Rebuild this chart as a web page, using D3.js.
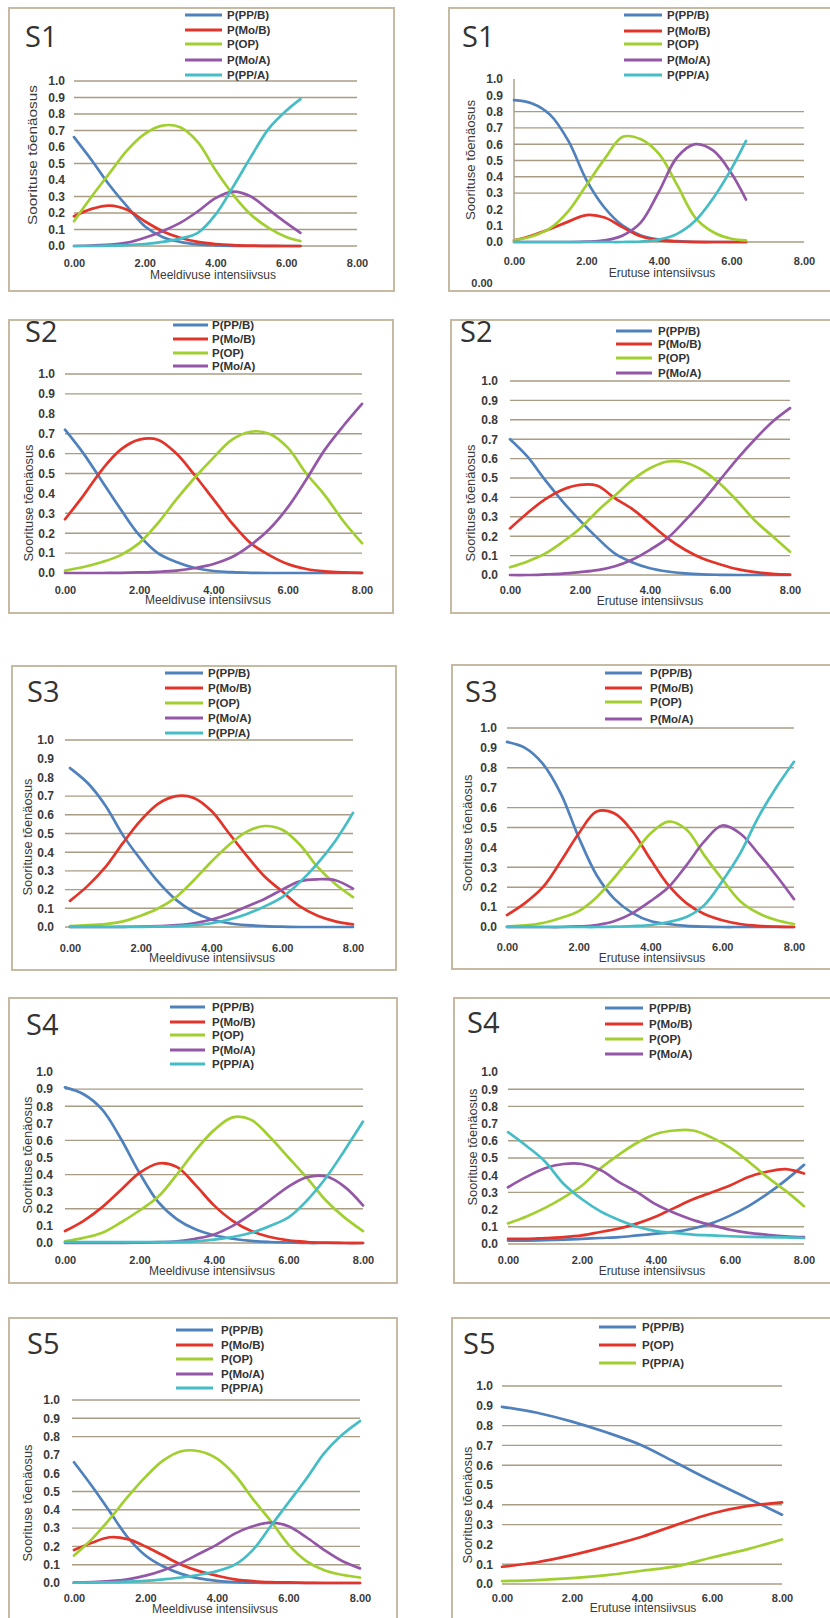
<!DOCTYPE html>
<html><head><meta charset="utf-8">
<script src="https://cdn.jsdelivr.net/npm/d3@7"></script>
<style>body{margin:0;background:#fff}svg{display:block}</style>
</head><body>
<svg id="c" width="830" height="1618"></svg>
<script>
// ---------------- DATA ----------------
const xTicks = [0, 2, 4, 6, 8];
const yTicks = [0, 0.1, 0.2, 0.3, 0.4, 0.5, 0.6, 0.7, 0.8, 0.9, 1.0];
const yTitle = "Soorituse tõenäosus";
const xTitleMeel = "Meeldivuse intensiivsus";
const xTitleErut = "Erutuse intensiivsus";
const panelTitles = ["S1", "S1", "S2", "S2", "S3", "S3", "S4", "S4", "S5", "S5"];

const xS1 = [0, 0.5, 1, 1.5, 2, 2.5, 3, 3.5, 4, 4.5, 5, 5.5, 6, 6.4];
const xFull = [0, 0.5, 1, 1.5, 2, 2.5, 3, 3.5, 4, 4.5, 5, 5.5, 6, 6.5, 7, 7.5, 8];
const xInt = [0, 1, 2, 3, 4, 5, 6, 7, 8];

// S1 – Meeldivus
const s1m_PPB = [0.66,0.52,0.37,0.24,0.12,0.055,0.025,0.01,0.004,0.001,0,0,0,0];
const s1m_MoB = [0.18,0.225,0.245,0.22,0.15,0.09,0.05,0.025,0.012,0.005,0.002,0.001,0,0];
const s1m_OP  = [0.15,0.30,0.44,0.58,0.68,0.73,0.72,0.63,0.46,0.31,0.19,0.11,0.055,0.03];
const s1m_MoA = [0,0.003,0.008,0.02,0.05,0.09,0.14,0.21,0.29,0.33,0.30,0.22,0.14,0.08];
const s1m_PPA = [0,0,0.002,0.005,0.012,0.025,0.045,0.08,0.19,0.36,0.54,0.71,0.82,0.89];
// S1 – Erutus
const s1e_PPB = [0.87,0.85,0.78,0.62,0.38,0.21,0.10,0.04,0.015,0.005,0,0,0,0];
const s1e_MoB = [0.01,0.04,0.08,0.125,0.165,0.15,0.09,0.035,0.01,0.003,0.001,0,0,0];
const s1e_OP  = [0.01,0.035,0.085,0.19,0.35,0.51,0.645,0.63,0.54,0.35,0.15,0.06,0.02,0.01];
const s1e_MoA = [0,0,0,0,0.002,0.01,0.04,0.12,0.31,0.52,0.60,0.56,0.42,0.26];
const s1e_PPA = [0,0,0,0,0,0,0,0.003,0.015,0.05,0.13,0.27,0.45,0.62];
// S2 – Meeldivus
const s2m_PPB = [0.72,0.60,0.46,0.32,0.19,0.10,0.055,0.025,0.01,0.004,0.001,0,0,0,0,0,0];
const s2m_MoB = [0.27,0.39,0.52,0.62,0.67,0.67,0.60,0.49,0.37,0.25,0.15,0.09,0.045,0.02,0.008,0.003,0.001];
const s2m_OP  = [0.012,0.03,0.055,0.09,0.15,0.25,0.37,0.48,0.58,0.67,0.71,0.70,0.63,0.50,0.39,0.26,0.15];
const s2m_MoA = [0,0,0,0.001,0.003,0.006,0.012,0.025,0.045,0.08,0.14,0.22,0.33,0.47,0.62,0.74,0.85];
// S2 – Erutus
const s2e_PPB = [0.70,0.61,0.49,0.38,0.28,0.19,0.11,0.065,0.035,0.018,0.008,0.003,0.001,0,0,0,0];
const s2e_MoB = [0.24,0.32,0.39,0.44,0.465,0.46,0.395,0.34,0.265,0.19,0.13,0.085,0.055,0.03,0.015,0.006,0.002];
const s2e_OP  = [0.04,0.07,0.11,0.17,0.24,0.33,0.41,0.49,0.55,0.585,0.58,0.54,0.47,0.38,0.28,0.20,0.12];
const s2e_MoA = [0,0,0.003,0.007,0.015,0.025,0.045,0.08,0.13,0.19,0.28,0.38,0.49,0.60,0.70,0.79,0.86];
// S3 – Meeldivus
const s3m_PPB = [0.85,0.77,0.65,0.49,0.36,0.24,0.145,0.08,0.04,0.02,0.01,0.005,0.002,0,0,0,0];
const s3m_MoB = [0.14,0.22,0.32,0.45,0.57,0.66,0.70,0.69,0.62,0.50,0.38,0.27,0.19,0.11,0.06,0.03,0.014];
const s3m_OP  = [0.005,0.01,0.015,0.03,0.06,0.10,0.16,0.25,0.35,0.44,0.51,0.54,0.52,0.44,0.32,0.23,0.16];
const s3m_MoA = [0,0,0,0.001,0.002,0.005,0.01,0.02,0.04,0.07,0.11,0.15,0.20,0.245,0.255,0.25,0.205];
const s3m_PPA = [0,0,0,0,0.001,0.003,0.005,0.01,0.02,0.04,0.07,0.11,0.16,0.24,0.34,0.46,0.61];
// S3 – Erutus
const s3e_PPB = [0.93,0.90,0.82,0.67,0.45,0.26,0.14,0.07,0.03,0.015,0.006,0.002,0,0,0,0,0];
const s3e_MoB = [0.06,0.12,0.20,0.33,0.47,0.58,0.57,0.48,0.34,0.21,0.12,0.065,0.034,0.015,0.006,0.002,0];
const s3e_OP  = [0.002,0.008,0.02,0.045,0.08,0.15,0.25,0.36,0.47,0.53,0.49,0.36,0.24,0.13,0.07,0.035,0.015];
const s3e_MoA = [0,0,0,0,0.003,0.01,0.03,0.07,0.13,0.20,0.31,0.43,0.51,0.47,0.37,0.26,0.14];
const s3e_PPA = [0,0,0,0,0,0,0.002,0.005,0.01,0.025,0.05,0.11,0.23,0.37,0.55,0.70,0.83];
// S4 – Meeldivus
const s4m_PPB = [0.91,0.87,0.78,0.61,0.41,0.24,0.14,0.08,0.045,0.025,0.012,0.006,0.003,0,0,0,0];
const s4m_MoB = [0.07,0.13,0.21,0.31,0.41,0.465,0.445,0.34,0.22,0.13,0.07,0.035,0.015,0.006,0.002,0,0];
const s4m_OP  = [0.01,0.03,0.06,0.12,0.19,0.27,0.40,0.54,0.66,0.735,0.72,0.62,0.50,0.38,0.25,0.15,0.07];
const s4m_MoA = [0,0,0,0,0.002,0.005,0.01,0.025,0.05,0.10,0.17,0.25,0.33,0.385,0.39,0.33,0.22];
const s4m_PPA = [0.005,0.005,0.005,0.005,0.005,0.005,0.006,0.01,0.02,0.035,0.06,0.10,0.15,0.25,0.38,0.54,0.71];
// S4 – Erutus
const s4e_PPB = [0.02,0.02,0.022,0.025,0.03,0.035,0.04,0.05,0.06,0.07,0.09,0.12,0.165,0.22,0.29,0.37,0.46];
const s4e_MoB = [0.03,0.03,0.035,0.04,0.05,0.07,0.09,0.12,0.16,0.21,0.26,0.30,0.34,0.39,0.42,0.435,0.41];
const s4e_OP  = [0.12,0.16,0.21,0.27,0.34,0.44,0.52,0.59,0.64,0.66,0.66,0.62,0.56,0.48,0.39,0.31,0.22];
const s4e_MoA = [0.33,0.39,0.44,0.465,0.465,0.43,0.36,0.30,0.23,0.18,0.14,0.11,0.083,0.065,0.054,0.045,0.04];
const s4e_PPA = [0.65,0.57,0.48,0.35,0.26,0.19,0.14,0.10,0.075,0.065,0.055,0.05,0.045,0.042,0.04,0.038,0.035];
// S5 – Meeldivus
const s5m_PPB = [0.66,0.53,0.39,0.25,0.15,0.09,0.05,0.025,0.012,0.005,0.002,0,0,0,0,0,0];
const s5m_MoB = [0.18,0.22,0.25,0.24,0.20,0.15,0.10,0.065,0.04,0.02,0.01,0.005,0.003,0.001,0,0,0];
const s5m_OP  = [0.15,0.24,0.35,0.47,0.58,0.67,0.72,0.72,0.68,0.59,0.46,0.34,0.21,0.12,0.07,0.045,0.03];
const s5m_MoA = [0.003,0.005,0.01,0.02,0.04,0.07,0.11,0.16,0.21,0.27,0.31,0.33,0.31,0.25,0.18,0.12,0.08];
const s5m_PPA = [0.002,0.003,0.004,0.008,0.012,0.02,0.03,0.045,0.065,0.10,0.18,0.31,0.44,0.57,0.71,0.81,0.885];
// S5 – Erutus
const s5e_PPB = [0.895,0.865,0.82,0.765,0.70,0.61,0.52,0.435,0.35];
const s5e_OP  = [0.087,0.11,0.146,0.19,0.239,0.30,0.356,0.393,0.412];
const s5e_PPA = [0.015,0.02,0.03,0.045,0.067,0.09,0.134,0.175,0.225];

// gridline values visible in each panel
const grid1 = [1,0.9,0.8,0.7,0.5,0.3,0.2,0.1,0];
const grid2 = [0.8,0.7,0.6,0.5,0.4,0.3,0];
const grid3 = [1,0.9,0.7,0.6,0.5,0.3,0.2,0.1,0];
const grid4 = yTicks;
const grid5 = [1,0.7,0.6,0.5,0.4,0.3,0.2,0.1,0];
const grid6 = [1,0.8,0.6,0.5,0.3,0.2,0.1,0];
const grid7 = [0.9,0.8,0.6,0.4,0.2,0];
const grid8 = [0.9,0.8,0.6,0.5,0.3,0.1,0];
const grid9 = [1,0.9,0.8,0.5,0.4,0.3,0.2,0.1,0];
const grid10 = [1,0.8,0.7,0.6,0.4,0.3,0.1,0];

// ---------------- STYLE / LAYOUT ----------------
const C = {blue:"#4f81bd", red:"#e3342a", green:"#a2cf30", purple:"#9457a8", cyan:"#45bdc6"};
const L5 = ["P(PP/B)","P(Mo/B)","P(OP)","P(Mo/A)","P(PP/A)"];
const col5 = [C.blue, C.red, C.green, C.purple, C.cyan];

function five(x, arrs, legendN){ return {x, series: arrs.map((v,i)=>({name:L5[i], v, c:col5[i], leg: i < legendN}))}; }

const panels = [
  Object.assign(five(xS1,[s1m_PPB,s1m_MoB,s1m_OP,s1m_MoA,s1m_PPA],5),{xl:xTitleMeel,grid:grid1}),
  Object.assign(five(xS1,[s1e_PPB,s1e_MoB,s1e_OP,s1e_MoA,s1e_PPA],5),{xl:xTitleErut,grid:grid2}),
  Object.assign(five(xFull,[s2m_PPB,s2m_MoB,s2m_OP,s2m_MoA],4),{xl:xTitleMeel,grid:grid3}),
  Object.assign(five(xFull,[s2e_PPB,s2e_MoB,s2e_OP,s2e_MoA],4),{xl:xTitleErut,grid:grid4}),
  Object.assign(five(xFull,[s3m_PPB,s3m_MoB,s3m_OP,s3m_MoA,s3m_PPA],5),{xl:xTitleMeel,grid:grid5}),
  Object.assign(five(xFull,[s3e_PPB,s3e_MoB,s3e_OP,s3e_MoA,s3e_PPA],4),{xl:xTitleErut,grid:grid6}),
  Object.assign(five(xFull,[s4m_PPB,s4m_MoB,s4m_OP,s4m_MoA,s4m_PPA],5),{xl:xTitleMeel,grid:grid7}),
  Object.assign(five(xFull,[s4e_PPB,s4e_MoB,s4e_OP,s4e_MoA,s4e_PPA],4),{xl:xTitleErut,grid:grid8}),
  Object.assign(five(xFull,[s5m_PPB,s5m_MoB,s5m_OP,s5m_MoA,s5m_PPA],5),{xl:xTitleMeel,grid:grid9}),
  {x:xInt, xl:xTitleErut, grid:grid10, series:[
    {name:"P(PP/B)", v:s5e_PPB, c:C.blue, leg:true},
    {name:"P(OP)", v:s5e_OP, c:C.red, leg:true},
    {name:"P(PP/A)", v:s5e_PPA, c:C.green, leg:true}]}
];

const layouts = [
 {box:[9,8,394,291], title:[25,47], leg:{x1:185,x2:222,tx:227,ys:[15,30,44,60,75]}, x0:74,x8:357,y1:81,y0:246, gx0:74,gx1:357, ytx:65, xty:263, xt:[213,275], yt:[32,155], ytl:140},
 {box:[449,8,840,291], title:[462,47], leg:{x1:624,x2:662,tx:667,ys:[15,31,44,60,75]}, x0:514,x8:804,y1:79,y0:242, gx0:514,gx1:804, ytx:503, xty:261, xt:[662,273], yt:[470,160], ytl:120, yaxis:true, extra:[482,283,"0.00"]},
 {box:[9,320,393,613], title:[25,342], leg:{x1:173,x2:208,tx:212,ys:[325,339,353,366]}, x0:65,x8:362,y1:374,y0:573, gx0:65,gx1:362, ytx:55, xty:590, xt:[208,600], yt:[28,503], ytl:117},
 {box:[451,320,840,613], title:[460,342], leg:{x1:616,x2:652,tx:658,ys:[331,344,358,373]}, x0:510,x8:790,y1:381,y0:575, gx0:510,gx1:790, ytx:498, xty:590, xt:[650,601], yt:[470,503], ytl:117},
 {box:[12,666,396,970], title:[27,702], leg:{x1:165,x2:203,tx:208,ys:[673,688,703,718,733]}, x0:70,x8:353,y1:740,y0:927, gx0:65,gx1:353, ytx:54, xty:948, xt:[212,958], yt:[27,837], ytl:117},
 {box:[452,665,840,969], title:[465,702], leg:{x1:605,x2:642,tx:650,ys:[673,688,702,719]}, x0:507,x8:794,y1:728,y0:927, gx0:507,gx1:794, ytx:497, xty:947, xt:[652,958], yt:[467,833], ytl:117},
 {box:[9,998,397,1283], title:[26,1035], leg:{x1:170,x2:205,tx:212,ys:[1007,1022,1035,1050,1064]}, x0:65,x8:363,y1:1072,y0:1243, gx0:65,gx1:363, ytx:53, xty:1260, xt:[212,1271], yt:[27,1155], ytl:117},
 {box:[454,998,840,1283], title:[467,1033], leg:{x1:605,x2:643,tx:649,ys:[1008,1024,1039,1054]}, x0:508,x8:804,y1:1072,y0:1244, gx0:508,gx1:804, ytx:498, xty:1260, xt:[652,1271], yt:[472,1147], ytl:117},
 {box:[9,1318,397,1640], title:[27,1354], leg:{x1:176,x2:213,tx:221,ys:[1330,1345,1359,1374,1388]}, x0:74,x8:360,y1:1400,y0:1583, gx0:72,gx1:360, ytx:60, xty:1598, xt:[215,1609], yt:[27,1503], ytl:117},
 {box:[452,1318,840,1640], title:[463,1354], leg:{x1:599,x2:636,tx:642,ys:[1327,1345,1363]}, x0:502,x8:782,y1:1386,y0:1584, gx0:502,gx1:782, ytx:493, xty:1598, xt:[643,1608], yt:[467,1505], ytl:117}
];

const FONT = "'Liberation Sans', Arial, sans-serif";
const svg = d3.select("#c");

panels.forEach((p, i) => {
  const L = layouts[i];
  const g = svg.append("g");
  const [bx0, by0, bx1, by1] = L.box;
  g.append("rect").attr("x", bx0).attr("y", by0).attr("width", bx1 - bx0).attr("height", by1 - by0)
    .attr("fill", "#fff").attr("stroke", "#c6baa2").attr("stroke-width", 2);

  const x = d3.scaleLinear().domain([0, 8]).range([L.x0, L.x8]);
  const y = d3.scaleLinear().domain([0, 1]).range([L.y0, L.y1]);

  // gridlines
  g.selectAll("line.grid").data(p.grid).join("line").attr("class", "grid")
    .attr("x1", L.gx0).attr("x2", L.gx1).attr("y1", d => y(d)).attr("y2", d => y(d))
    .attr("stroke", "#a89c84").attr("stroke-width", 1.4);
  if (L.yaxis) {
    g.append("line").attr("x1", L.x0).attr("x2", L.x0).attr("y1", y(1)).attr("y2", y(0))
      .attr("stroke", "#a89c84").attr("stroke-width", 1.4);
  }

  // y axis labels
  const ya = g.append("g").attr("transform", `translate(${L.ytx},0)`)
    .call(d3.axisLeft(y).tickValues(yTicks).tickSize(0).tickPadding(0).tickFormat(d3.format(".1f")));
  ya.select(".domain").remove();
  ya.selectAll("text").attr("font-family", FONT).attr("font-size", 12).attr("font-weight", "bold").attr("fill", "#3a3a3a");

  // x axis labels
  const xa = g.append("g").attr("transform", `translate(0,${L.xty})`)
    .call(d3.axisBottom(x).tickValues(xTicks).tickSize(0).tickPadding(0).tickFormat(d3.format(".2f")));
  xa.select(".domain").remove();
  xa.selectAll("text").attr("y", 0).attr("dy", "0.35em")
    .attr("font-family", FONT).attr("font-size", 11).attr("font-weight", "bold").attr("fill", "#3a3a3a");

  // axis titles
  g.append("text").attr("x", L.xt[0]).attr("y", L.xt[1]).attr("dy", "0.35em").attr("text-anchor", "middle")
    .attr("font-family", FONT).attr("font-size", 12).attr("fill", "#3a3a3a").text(p.xl);
  g.append("text").attr("transform", `translate(${L.yt[0]},${L.yt[1]}) rotate(-90)`)
    .attr("dy", "0.35em").attr("text-anchor", "middle")
    .attr("font-family", FONT).attr("font-size", 13).attr("fill", "#3a3a3a")
    .attr("textLength", L.ytl).attr("lengthAdjust", "spacingAndGlyphs").text(yTitle);

  // panel title
  g.append("text").attr("x", L.title[0]).attr("y", L.title[1])
    .attr("font-family", "'Open Sans', sans-serif").attr("font-size", 29).attr("fill", "#333").text(panelTitles[i]);

  // curves
  const line = d3.line().x(d => x(d[0])).y(d => y(d[1])).curve(d3.curveCatmullRom.alpha(0.5));
  p.series.forEach(s => {
    g.append("path").datum(p.x.map((xv, k) => [xv, s.v[k]]))
      .attr("d", line).attr("fill", "none").attr("stroke", s.c).attr("stroke-width", 2.7)
      .attr("stroke-linejoin", "round").attr("stroke-linecap", "round");
  });

  // legend
  const legItems = p.series.filter(s => s.leg);
  legItems.forEach((s, k) => {
    const ly = L.leg.ys[k];
    g.append("line").attr("x1", L.leg.x1).attr("x2", L.leg.x2).attr("y1", ly).attr("y2", ly)
      .attr("stroke", s.c).attr("stroke-width", 3.2);
    g.append("text").attr("x", L.leg.tx).attr("y", ly).attr("dy", "0.35em")
      .attr("font-family", FONT).attr("font-size", 11.5).attr("font-weight", "bold").attr("fill", "#333").text(s.name);
  });

  if (L.extra) {
    g.append("text").attr("x", L.extra[0]).attr("y", L.extra[1]).attr("dy", "0.35em").attr("text-anchor", "middle")
      .attr("font-family", FONT).attr("font-size", 11).attr("font-weight", "bold").attr("fill", "#3a3a3a").text(L.extra[2]);
  }
});
</script>
</body></html>
